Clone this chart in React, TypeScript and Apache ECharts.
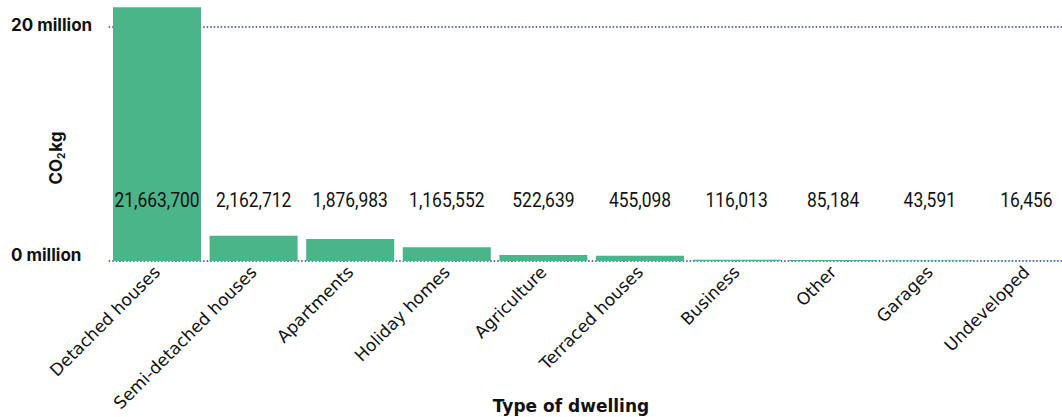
import React, { useEffect, useRef } from "react";
import * as echarts from "echarts";

const categories = [
  "Detached houses",
  "Semi-detached houses",
  "Apartments",
  "Holiday homes",
  "Agriculture",
  "Terraced houses",
  "Business",
  "Other",
  "Garages",
  "Undeveloped",
];
const co2Values = [21663700, 2162712, 1876983, 1165552, 522639, 455098, 116013, 85184, 43591, 16456];
const yTicks = [0, 20000000];

const BAR = "#4BB58A";
const LINE = "#2E3A9C";

export default function App() {
  const ref = useRef<HTMLDivElement>(null);
  useEffect(() => {
    if (!ref.current) return;
    const chart = echarts.init(ref.current, undefined, { renderer: "svg" });
    const fmt = (v: number) => v.toLocaleString("en-US");
    chart.setOption({
      animation: false,
      grid: {
        left: 108.7,
        right: 1.3,
        top: 26.7,
        bottom: 156,
        containLabel: false,
        outerBoundsMode: "none",
      },
      xAxis: {
        type: "category",
        data: categories,
        axisLine: { show: false },
        axisTick: { show: false },
        axisLabel: {
          rotate: 45,
          margin: 8,
          color: "#111",
          fontSize: 17,
          fontFamily: "'DejaVu Sans', sans-serif",
          interval: 0,
        },
      },
      yAxis: {
        type: "value",
        min: yTicks[0],
        max: yTicks[1],
        interval: yTicks[1] - yTicks[0],
        axisLine: { show: false },
        axisTick: { show: false },
        splitLine: { lineStyle: { color: LINE, type: [1.5, 2], width: 1.5 } },
        axisLabel: {
          align: "left",
          margin: 97.7,
          formatter: (v: number) =>
            v === 0 ? `{z|${v / 1e6} million}` : `{t|${v / 1e6} million}`,
          rich: {
            z: {
              fontFamily: "Inter, sans-serif",
              fontWeight: 700,
              fontSize: 17,
              color: "#111",
              padding: [0, 0, 13, 0],
            },
            t: {
              fontFamily: "Inter, sans-serif",
              fontWeight: 700,
              fontSize: 17,
              color: "#111",
              padding: [0, 0, 4, 0],
            },
          },
        },
      },
      graphic: [
        {
          type: "text",
          x: 56,
          y: 158,
          rotation: Math.PI / 2,
          style: {
            text: "CO{s|2}kg",
            align: "center",
            verticalAlign: "middle",
            fontFamily: "Inter, sans-serif",
            fontWeight: 700,
            fontSize: 17,
            fill: "#111",
            rich: {
              s: {
                fontFamily: "Inter, sans-serif",
                fontWeight: 700,
                fontSize: 10,
                fill: "#111",
                padding: [10, 1, 0, 0],
              },
            },
          },
        },
        {
          type: "text",
          x: 571,
          y: 406,
          style: {
            text: "Type of dwelling",
            align: "center",
            verticalAlign: "middle",
            fontFamily: "'DejaVu Sans', sans-serif",
            fontWeight: 700,
            fontSize: 17,
            fill: "#111",
          },
        },
      ],
      series: [
        {
          type: "bar",
          data: co2Values,
          barWidth: 88,
          clip: false,
          itemStyle: { color: BAR },
          z: 2,
        },
        {
          type: "custom",
          data: co2Values.map((v, i) => [i, v]),
          z: 5,
          clip: false,
          renderItem: (params: any, api: any) => {
            const p = api.coord([api.value(0), 0]);
            return {
              type: "text",
              x: p[0],
              y: p[1] - 61,
              scaleX: 0.83,
              style: {
                text: fmt(api.value(1)),
                align: "center",
                verticalAlign: "middle",
                fontFamily: "Roboto, sans-serif",
                fontSize: 21,
                fill: "#111",
              },
            };
          },
        },
      ],
    });
    return () => chart.dispose();
  }, []);
  return (
    <div
      style={{
        position: "absolute",
        left: 0,
        top: 0,
        width: 1062,
        height: 417,
        overflow: "hidden",
      }}
    >
      <div ref={ref} style={{ width: 1076, height: 417 }} />
    </div>
  );
}
